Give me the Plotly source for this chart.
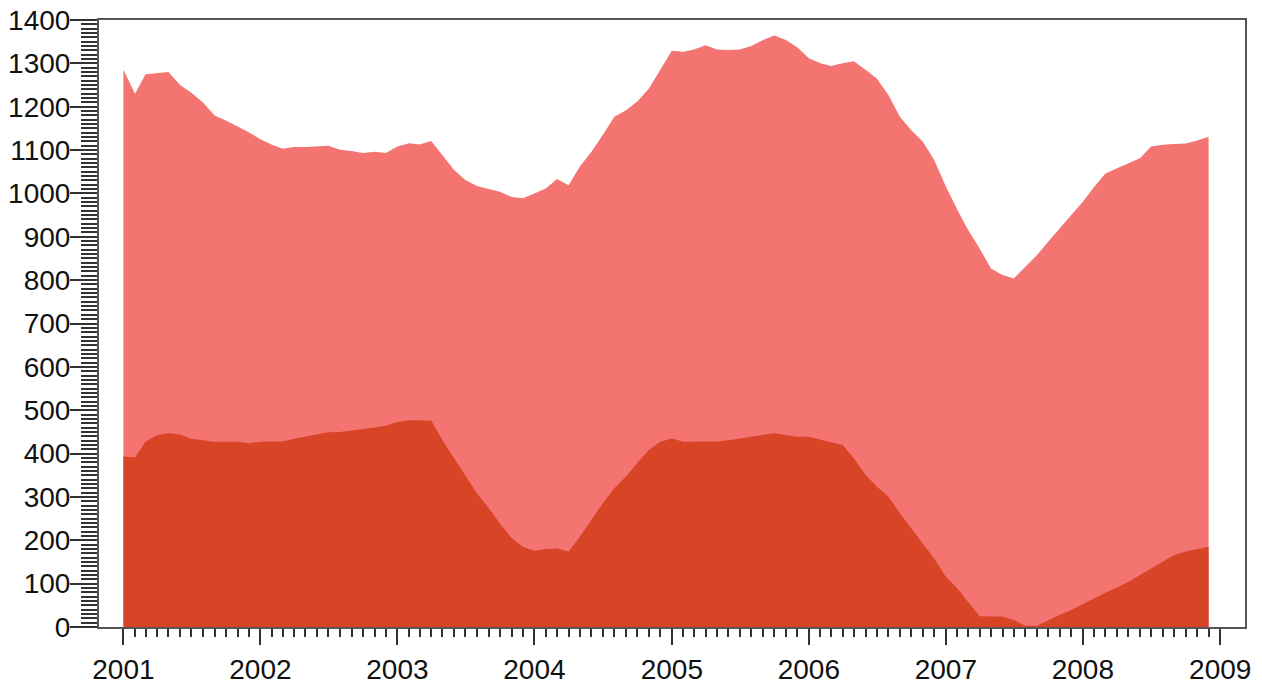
import pandas as pd
import plotly.graph_objects as go

months = pd.date_range("2001-01-01", "2008-12-01", freq="MS")
minor_months = pd.date_range("2001-01-01", "2009-01-01", freq="MS")

total = [
    1285, 1230, 1275, 1277, 1280, 1250, 1232, 1210, 1180, 1168, 1155, 1141,
    1125, 1112, 1103, 1107, 1107, 1108, 1110, 1101, 1098, 1093, 1096, 1093,
    1108, 1116, 1113, 1121, 1088, 1054, 1031, 1017, 1010, 1004, 992, 989,
    1000, 1012, 1033, 1019, 1062, 1096, 1135, 1177, 1192, 1212, 1242, 1285,
    1329, 1327, 1332, 1342, 1332, 1331, 1332, 1340, 1354, 1364, 1354, 1337,
    1312, 1300, 1294, 1300, 1305, 1285, 1265, 1227, 1176, 1146, 1119, 1077,
    1016, 962, 916, 873, 827, 812, 804, 831, 858, 889, 920, 950,
    981, 1016, 1046, 1058, 1070, 1081, 1108, 1112, 1114, 1115, 1122, 1131,
]

lower = [
    393, 391, 427, 443, 447, 444, 434, 430, 427, 427, 427, 424,
    427, 428, 428, 434, 439, 444, 449, 450, 453, 457, 460, 464,
    473, 477, 477, 476, 431, 389, 348, 308, 275, 239, 205, 185,
    176, 180, 181, 174, 208, 247, 285, 320, 347, 378, 408, 427,
    435, 427, 427, 427, 428, 431, 435, 439, 443, 447, 443, 439,
    439, 433, 427, 420, 389, 351, 324, 301, 262, 228, 193, 158,
    116, 89, 58, 25, 24, 24, 16, 3, 3, 16, 28, 39,
    53, 66, 79, 91, 104, 120, 135, 151, 166, 174, 180, 185,
]

y_ticks = list(range(0, 1401, 100))

fig = go.Figure()
fig.add_trace(go.Scatter(
    x=months, y=total, mode="lines", line=dict(width=0, color="#f47472"),
    fill="tozeroy", fillcolor="#f47472", hoverinfo="x+y", name="Total",
))
fig.add_trace(go.Scatter(
    x=months, y=lower, mode="lines", line=dict(width=0, color="#d84426"),
    fill="tozeroy", fillcolor="#d84426", hoverinfo="x+y", name="Lower",
))

axis_font = dict(family="Liberation Sans, Arial, sans-serif", size=28, color="#111")

fig.update_layout(
    width=1262, height=688,
    margin=dict(l=99, r=17, t=20, b=61),
    paper_bgcolor="white", plot_bgcolor="white",
    showlegend=False,
    xaxis=dict(
        type="date", automargin=False,
        range=["2000-10-28", "2009-03-08"],
        tick0="2001-01-01", dtick="M12", tickformat="%Y",
        ticks="outside", ticklen=16, tickwidth=2, tickcolor="#333",
        showline=True, linecolor="#555", linewidth=2, mirror=True,
        showgrid=False, zeroline=False,
        tickfont=axis_font,
        minor=dict(tickvals=list(minor_months), ticks="outside", ticklen=8,
                   tickwidth=1.5, tickcolor="#333", showgrid=False),
    ),
    yaxis=dict(
        range=[0, 1400], automargin=False,
        tickvals=y_ticks,
        ticks="outside", ticklen=27, tickwidth=2, tickcolor="#333",
        ticklabelstandoff=-6,
        showline=True, linecolor="#555", linewidth=2, mirror=True,
        showgrid=False, zeroline=False,
        tickfont=axis_font,
        minor=dict(dtick=10, ticks="outside", ticklen=16, tickwidth=1.5, tickcolor="#333", showgrid=False),
    ),
)

fig.write_html(
    "out.html",
    config={"displayModeBar": False},
    post_script="document.body.style.margin='0';document.body.style.overflow='hidden';",
)
